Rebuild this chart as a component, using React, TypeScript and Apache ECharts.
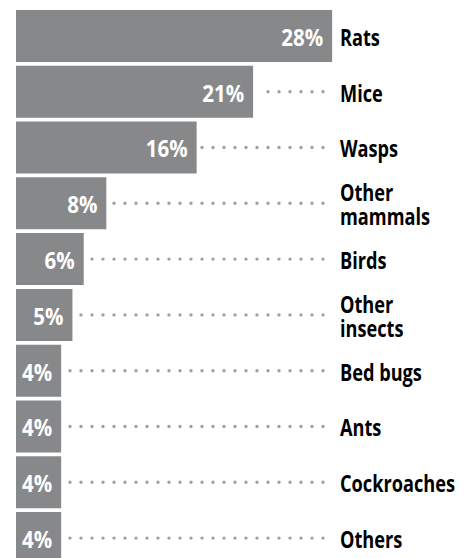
import React, { useEffect, useRef } from "react";
import * as echarts from "echarts";

const categories = [
  "Rats",
  "Mice",
  "Wasps",
  "Other\nmammals",
  "Birds",
  "Other\ninsects",
  "Bed bugs",
  "Ants",
  "Cockroaches",
  "Others",
];
const values = [28, 21, 16, 8, 6, 5, 4, 4, 4, 4];

const FONT = "'Open Sans', 'Noto Sans', sans-serif";

export default function App() {
  const ref = useRef<HTMLDivElement>(null);
  useEffect(() => {
    document.body.style.margin = "0";
    document.body.style.overflow = "hidden";
    if (!ref.current) return;
    const chart = echarts.init(ref.current, undefined, { renderer: "svg" });
    const dotEndX = 323;
    const labelX = 340;
    chart.setOption({
      animation: false,
      grid: { left: 16, width: 451.6, top: 8, bottom: 0 },
      xAxis: { type: "value", min: 0, max: 40, show: false },
      yAxis: {
        type: "category",
        data: categories,
        inverse: true,
        show: false,
      },
      series: [
        {
          type: "bar",
          data: values,
          z: 2,
          barCategoryGap: "6.8%",
          itemStyle: { color: "#87888a" },
          silent: true,
        },
        {
          type: "custom",
          z: 10,
          data: values.map((v, i) => [v, i]),
          encode: { x: 0, y: 1 },
          silent: true,
          clip: false,
          renderItem: (params: any, api: any) => {
            const v = api.value(0);
            const i = api.value(1);
            const p = api.coord([v, i]);
            const children: any[] = [];
            const startX = p[0] + 5;
            if (startX < dotEndX) {
              children.push({
                type: "line",
                shape: { x1: dotEndX, y1: p[1], x2: startX, y2: p[1] },
                style: {
                  stroke: "#a0a0a0",
                  lineWidth: 3.4,
                  lineCap: "round",
                  lineDash: [0.01, 10.99],
                },
              });
            }
            children.push({
              type: "text",
              x: p[0] - 9,
              y: p[1] + 1,
              scaleX: 0.89,
              z2: 100,
              style: {
                text: v + "%",
                fill: "#ffffff",
                font: `bold 23px ${FONT}`,
                textAlign: "right",
                textVerticalAlign: "middle",
              },
            });
            children.push({
              type: "text",
              x: labelX,
              y: p[1] + 1,
              scaleX: 0.79,
              style: {
                text: categories[i],
                fill: "#000000",
                font: `bold 23px ${FONT}`,
                textAlign: "left",
                textVerticalAlign: "middle",
                lineHeight: 24.5,
              },
            });
            return { type: "group", children };
          },
        },
      ],
    });
    return () => chart.dispose();
  }, []);
  return <div ref={ref} style={{ width: 474, height: 566 }} />;
}
